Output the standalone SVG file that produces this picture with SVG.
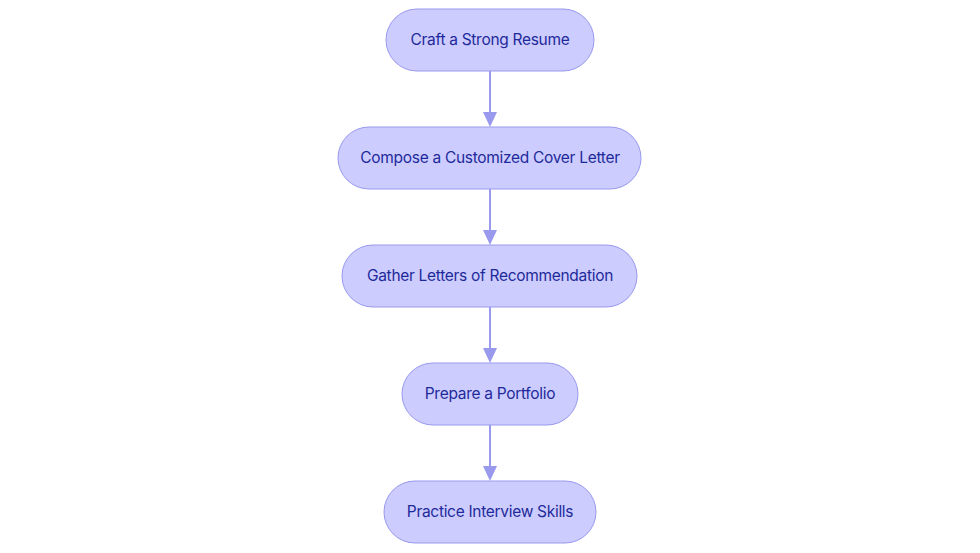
<svg xmlns="http://www.w3.org/2000/svg" width="980" height="553" viewBox="0 0 980 553">
<defs>
<style>
.node rect{fill:#ccccff;stroke:#9999ee;stroke-width:1}
.node text{font-family:Inter,"Noto Sans",sans-serif;font-size:15.5px;letter-spacing:-0.3px;fill:#1f2a9a;text-anchor:middle;dominant-baseline:central}
.edge{stroke:#9999ee;stroke-width:2;fill:none}
.head{fill:#9999ee}
</style>
</defs>
<rect width="980" height="553" fill="#ffffff"/>
<g id="connectors">
<line class="edge" x1="490" y1="71" x2="490" y2="112"/>
<path class="head" d="M483,112 L497,112 L490,127 z"/>
<line class="edge" x1="490" y1="189" x2="490" y2="230"/>
<path class="head" d="M483,230 L497,230 L490,245 z"/>
<line class="edge" x1="490" y1="307" x2="490" y2="348"/>
<path class="head" d="M483,348 L497,348 L490,363 z"/>
<line class="edge" x1="490" y1="425" x2="490" y2="466"/>
<path class="head" d="M483,466 L497,466 L490,481 z"/>
</g>
<g id="n1" class="node"><rect x="386" y="9" width="208" height="62" rx="31"/><text x="490" y="39">Craft a Strong Resume</text></g>
<g id="n2" class="node"><rect x="338" y="127" width="303" height="62" rx="31"/><text x="490" y="157">Compose a Customized Cover Letter</text></g>
<g id="n3" class="node"><rect x="342" y="245" width="295" height="62" rx="31"/><text x="490" y="275">Gather Letters of Recommendation</text></g>
<g id="n4" class="node"><rect x="402" y="363" width="176" height="62" rx="31"/><text x="490" y="393">Prepare a Portfolio</text></g>
<g id="n5" class="node"><rect x="384" y="481" width="212" height="62" rx="31"/><text x="490" y="511">Practice Interview Skills</text></g>
</svg>
